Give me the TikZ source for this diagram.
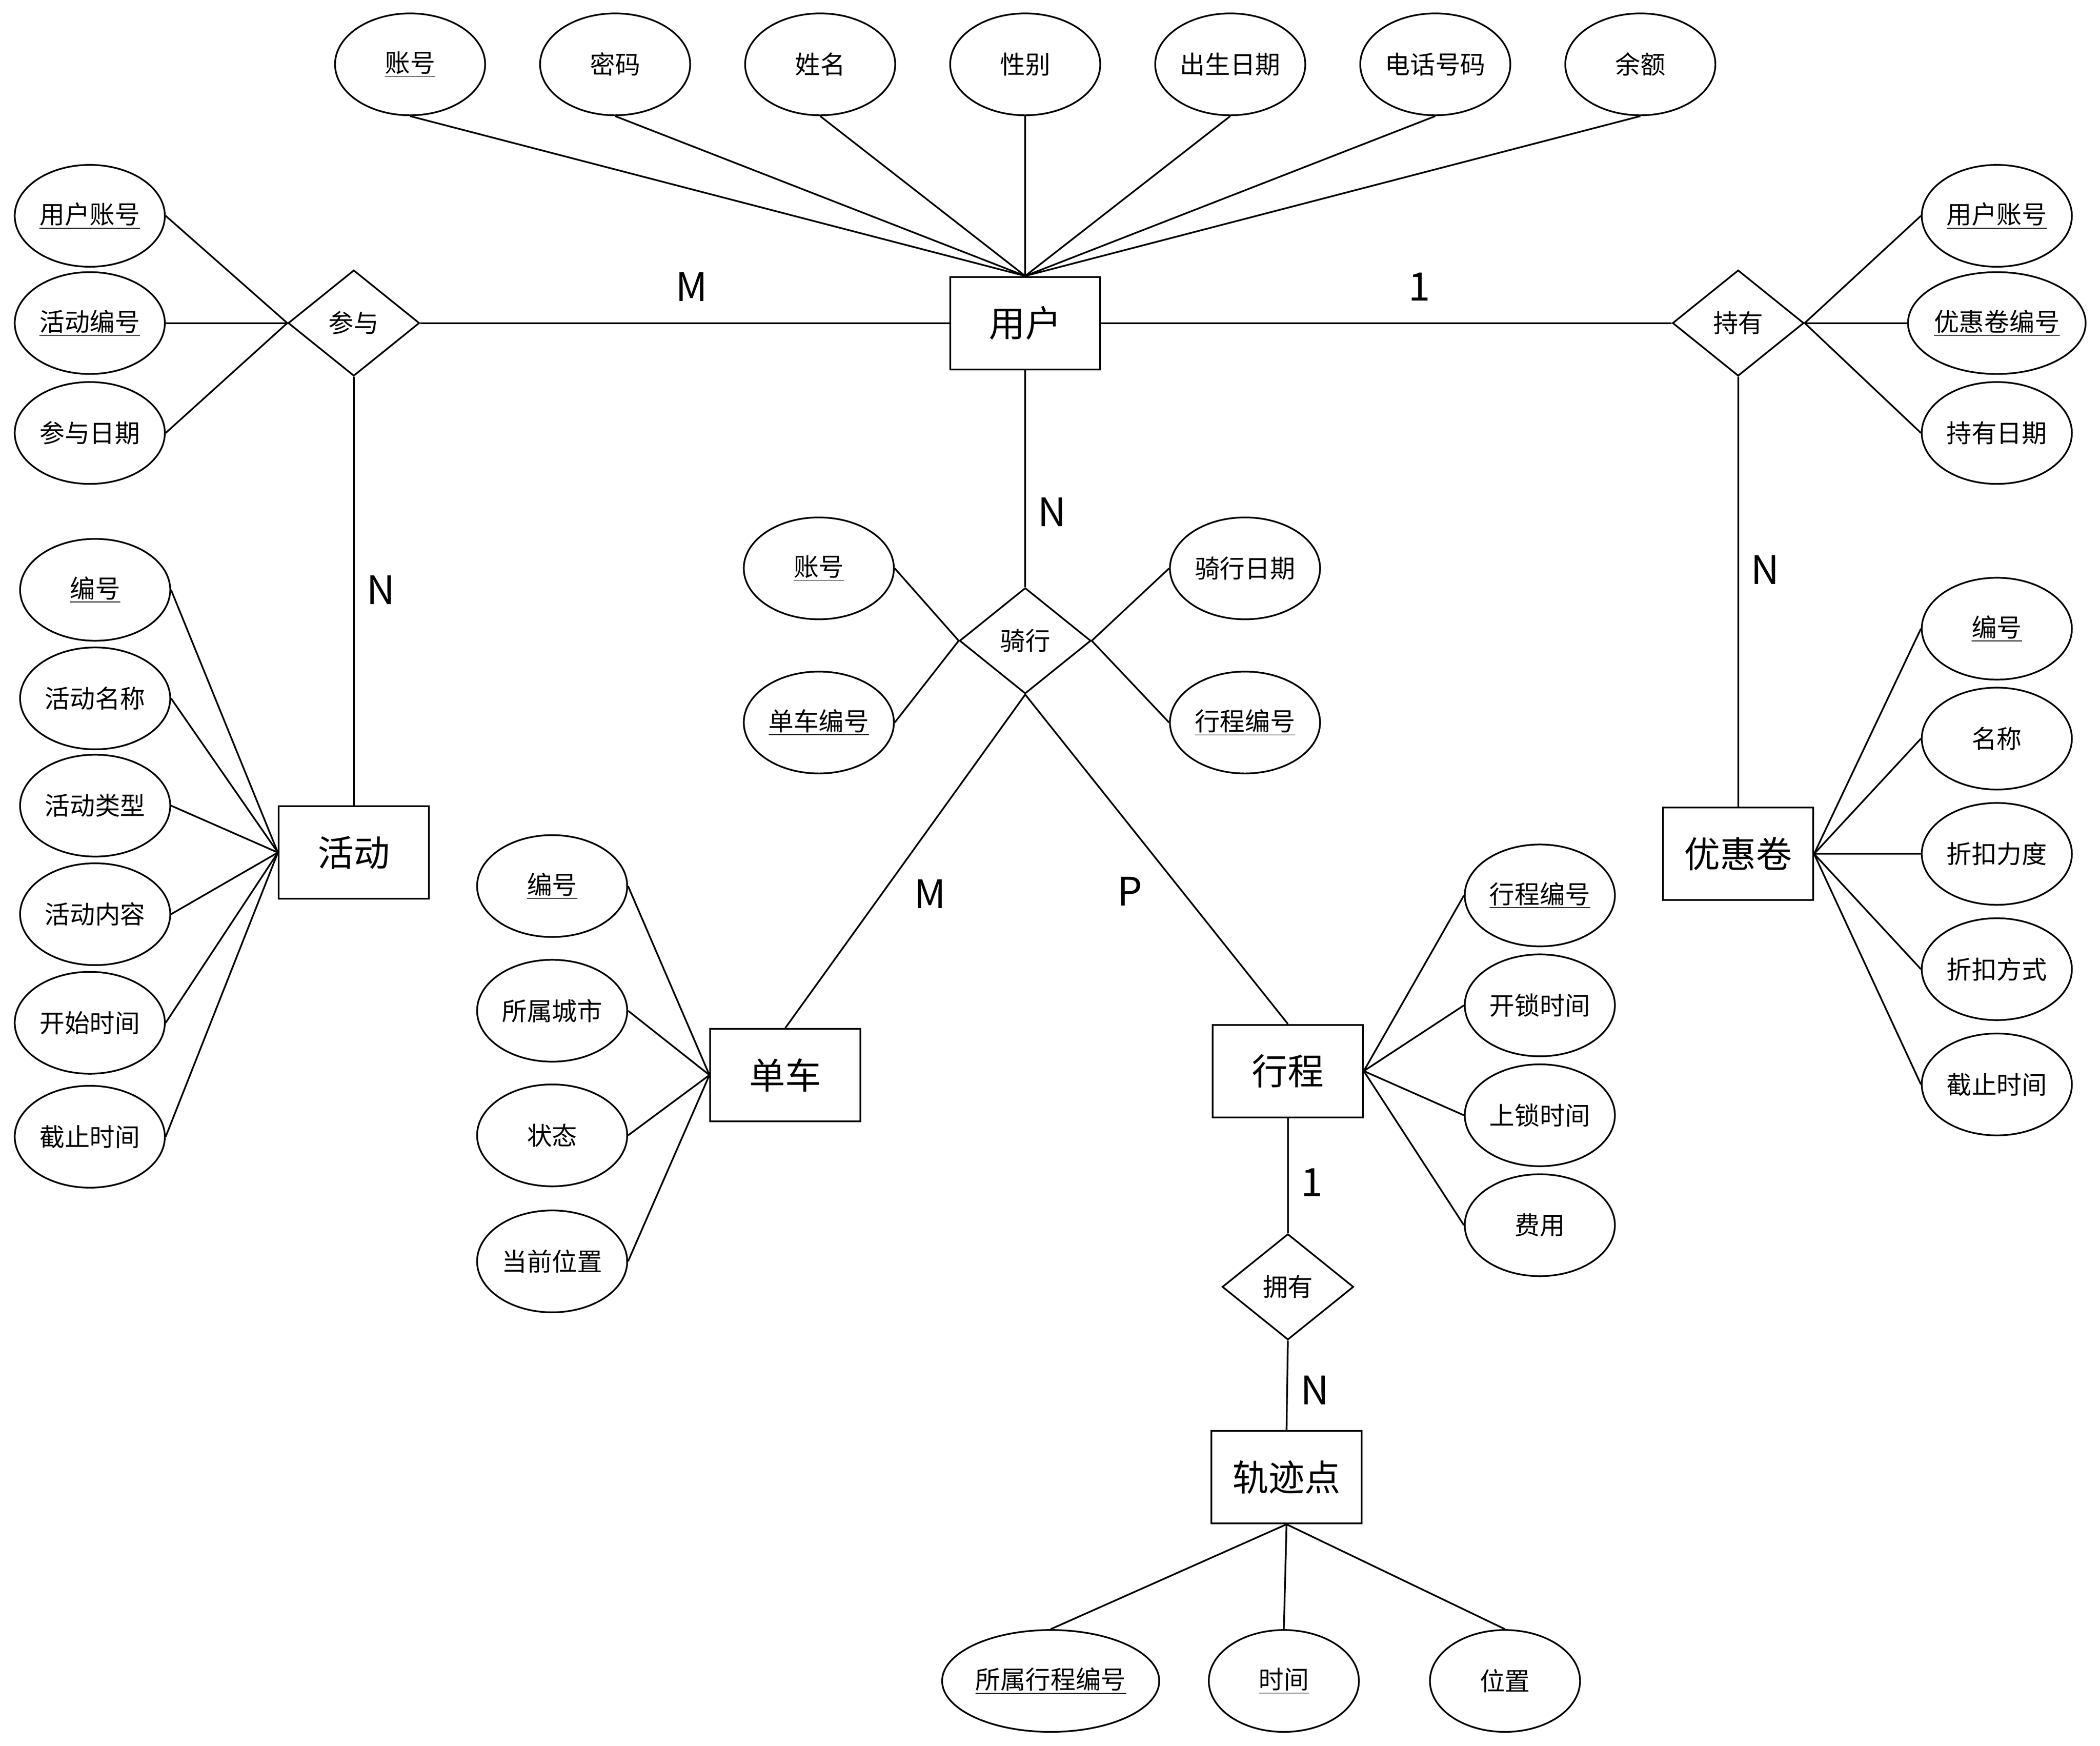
\documentclass[tikz,border=0pt]{standalone}
\usepackage{fontspec}
\setmainfont{Noto Sans CJK SC}
\usepackage{tikz}
\usetikzlibrary{shapes.geometric}
\tikzstyle{attr}=[ellipse,draw,line width=0.38mm,minimum width=33.6mm,minimum height=22.8mm,inner sep=0pt,font=\fontsize{16pt}{18pt}\selectfont]
\tikzstyle{entity}=[rectangle,draw,line width=0.38mm,minimum width=33.6mm,minimum height=20.7mm,inner sep=0pt,font=\fontsize{23pt}{26pt}\selectfont]
\tikzstyle{rel}=[diamond,draw,line width=0.38mm,aspect=1.24,minimum width=29.4mm,minimum height=23.7mm,inner sep=0pt,font=\fontsize{16pt}{18pt}\selectfont]
\tikzstyle{card}=[inner sep=0pt,font=\fontsize{25pt}{28pt}\selectfont]

\begin{document}
\begin{tikzpicture}[x=0.3mm, y=-0.3mm, line width=0.38mm]
      \useasboundingbox (0,0) rectangle (1567,1302.3);

      % entities
      \node[entity] (u) at (765, 241) {用户};
      \node[entity] (hd) at (264, 636) {活动};
      \node[entity] (yhj) at (1297, 637) {优惠卷};
      \node[entity] (dc) at (586, 802) {单车};
      \node[entity] (xc) at (961, 799) {行程};
      \node[entity] (gjd) at (960, 1102) {轨迹点};

      % relations
      \node[rel] (cy) at (264, 241) {参与};
      \node[rel] (cyou) at (1297, 241) {持有};
      \node[rel] (qx) at (765, 478) {骑行};
      \node[rel] (yy) at (961, 960) {拥有};

      % user attributes
      \node[attr] (u1) at (306, 48) {\underline{账号}};
      \node[attr] (u2) at (459, 48) {密码};
      \node[attr] (u3) at (612, 48) {姓名};
      \node[attr] (u4) at (765, 48) {性别};
      \node[attr] (u5) at (918, 48) {出生日期};
      \node[attr] (u6) at (1071, 48) {电话号码};
      \node[attr] (u7) at (1224, 48) {余额};
      \foreach \i in {1,...,7}
        \draw (u\i.south) -- (u.north);

      % 参与 attributes
      \node[attr] (cy1) at (67, 161) {\underline{用户账号}};
      \node[attr] (cy2) at (67, 241) {\underline{活动编号}};
      \node[attr] (cy3) at (67, 323) {参与日期};
      \foreach \i in {1,2,3}
        \draw (cy\i.east) -- (cy.west);

      % 活动 attributes
      \node[attr] (hd1) at (71, 440) {\underline{编号}};
      \node[attr] (hd2) at (71, 521) {活动名称};
      \node[attr] (hd3) at (71, 601) {活动类型};
      \node[attr] (hd4) at (71, 682) {活动内容};
      \node[attr] (hd5) at (67, 763) {开始时间};
      \node[attr] (hd6) at (67, 848) {截止时间};
      \foreach \i in {1,...,6}
        \draw (hd\i.east) -- (hd.west);

      % 持有 attributes
      \node[attr] (cyou1) at (1490, 161) {\underline{用户账号}};
      \node[attr] (cyou2) at (1490, 241) {\underline{优惠卷编号}};
      \node[attr] (cyou3) at (1490, 323) {持有日期};
      \foreach \i in {1,2,3}
        \draw (cyou.east) -- (cyou\i.west);

      % 优惠卷 attributes
      \node[attr] (yhj1) at (1490, 469) {\underline{编号}};
      \node[attr] (yhj2) at (1490, 551) {名称};
      \node[attr] (yhj3) at (1490, 637) {折扣力度};
      \node[attr] (yhj4) at (1490, 723) {折扣方式};
      \node[attr] (yhj5) at (1490, 809) {截止时间};
      \foreach \i in {1,...,5}
        \draw (yhj.east) -- (yhj\i.west);

      % 骑行 attributes
      \node[attr] (qx1) at (611, 424) {\underline{账号}};
      \node[attr] (qx2) at (611, 539) {\underline{单车编号}};
      \node[attr] (qx3) at (929, 424) {骑行日期};
      \node[attr] (qx4) at (929, 539) {\underline{行程编号}};
      \draw (qx1.east) -- (qx.west);
      \draw (qx2.east) -- (qx.west);
      \draw (qx3.west) -- (qx.east);
      \draw (qx4.west) -- (qx.east);

      % 单车 attributes
      \node[attr] (dc1) at (412, 661) {\underline{编号}};
      \node[attr] (dc2) at (412, 754) {所属城市};
      \node[attr] (dc3) at (412, 847) {状态};
      \node[attr] (dc4) at (412, 941) {当前位置};
      \foreach \i in {1,...,4}
        \draw (dc\i.east) -- (dc.west);

      % 行程 attributes
      \node[attr] (xc1) at (1149, 668) {\underline{行程编号}};
      \node[attr] (xc2) at (1149, 750) {开锁时间};
      \node[attr] (xc3) at (1149, 832) {上锁时间};
      \node[attr] (xc4) at (1149, 914) {费用};
      \foreach \i in {1,...,4}
        \draw (xc.east) -- (xc\i.west);

      % 轨迹点 attributes
      \node[attr, minimum width=48.6mm] (gjd1) at (784, 1254) {\underline{所属行程编号}};
      \node[attr] (gjd2) at (958, 1254) {\underline{时间}};
      \node[attr] (gjd3) at (1123, 1254) {位置};
      \foreach \i in {1,2,3}
        \draw (gjd.south) -- (gjd\i.north);

      % relationships
      \draw (cy.east) -- (u.west);
      \draw (cy.south) -- (hd.north);
      \draw (u.east) -- (cyou.west);
      \draw (cyou.south) -- (yhj.north);
      \draw (u.south) -- (qx.north);
      \draw (qx.south) -- (dc.north);
      \draw (qx.south) -- (xc.north);
      \draw (xc.south) -- (yy.north);
      \draw (yy.south) -- (gjd.north);

      % cardinalities
      \node[card] (mcy) at (516, 214) {M};
      \node[card] (ncy) at (284, 440) {N};
      \node[card] (ocyou) at (1059, 214) {1};
      \node[card] (ncyou) at (1317, 425) {N};
      \node[card] (nqx) at (785, 382) {N};
      \node[card] (mqx) at (694, 667) {M};
      \node[card] (pqx) at (843, 665) {P};
      \node[card] (oyy) at (979, 882) {1};
      \node[card] (nyy) at (981, 1037) {N};
    \end{tikzpicture}
\end{document}
